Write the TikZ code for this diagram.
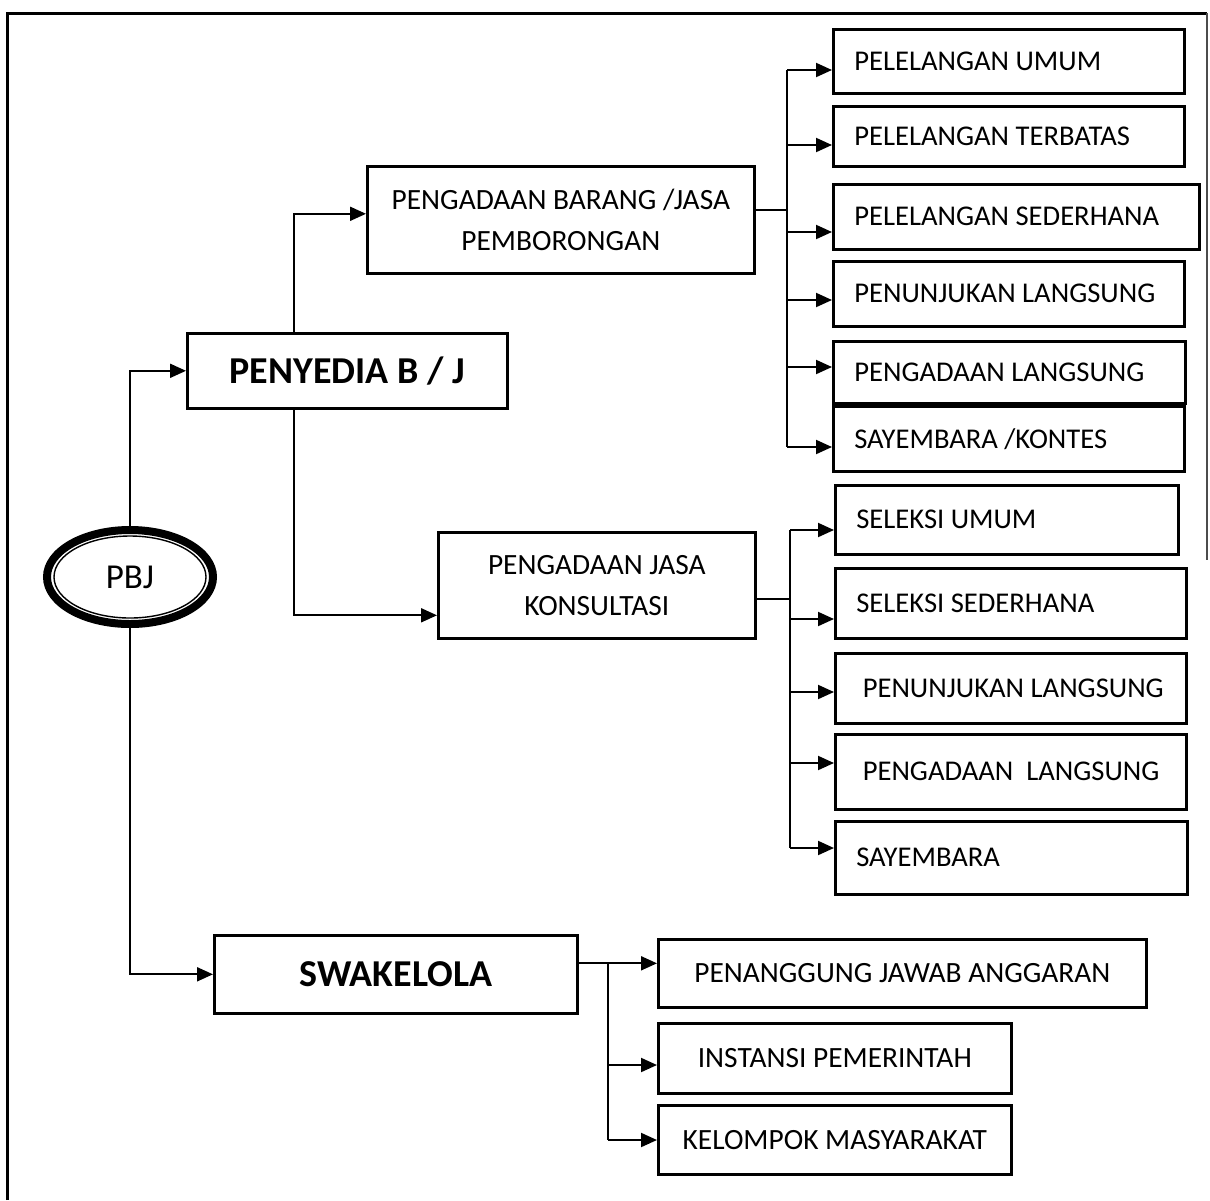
\documentclass[tikz,border=0pt]{standalone}
\usepackage{fontspec}
\setmainfont{Carlito}
\usetikzlibrary{arrows.meta,shapes.geometric}

\begin{document}
\begin{tikzpicture}[x=0.5pt,y=-0.5pt,
	box/.style={draw,line width=1.3pt,anchor=north west,inner sep=0pt,font=\fontsize{14.7}{20.5}\selectfont},
	leaf/.style 2 args={box,align=flush left,inner xsep=10.5pt,text width=#1,minimum height=#2,font=\fontsize{14.3}{20}\selectfont},
	cbox/.style 2 args={box,align=center,minimum width=#1,minimum height=#2},
	head/.style 2 args={cbox={#1}{#2},font=\fontsize{19}{23}\selectfont\bfseries},
	pbjnode/.style={ellipse,draw,line width=4pt,minimum width=83pt,minimum height=47pt,inner sep=0pt,font=\fontsize{17.5}{20}\selectfont},
	conn/.style={line width=1pt},
	arr/.style={conn,-{Triangle[length=8pt,width=7pt]}}]

\useasboundingbox (0,0) rectangle (1210,1200);

% FRAME

\draw[line width=1.5pt] (7,1200) -- (7,13) -- (1207,13);
\draw[line width=0.8pt,black!70] (1207,13) -- (1207,560);

% ROOT

\node[pbjnode] (pbj) at (130,577) {PBJ};
\draw[line width=0.7pt] (pbj.center) ellipse [x radius=38pt, y radius=20.5pt];

\node[head={160pt}{37.5pt}] (penyedia) at (186,332) {PENYEDIA B / J};
\node[head={181.5pt}{39pt}] (swakelola) at (213,934) {SWAKELOLA};

\draw[arr] (pbj.north) |- (penyedia.west);
\draw[arr] (pbj.south) |- (swakelola.west);

% PENYEDIA BRANCH

\node[cbox={193.5pt}{53.5pt}] (barang) at (366,165) {PENGADAAN BARANG /JASA\\PEMBORONGAN};
\node[cbox={158.5pt}{53pt}] (jasa) at (437,531) {PENGADAAN JASA\\KONSULTASI};

\draw[arr] ([xshift=-26.5pt]penyedia.north) |- ([yshift=3pt]barang.west);
\draw[arr] ([xshift=-26.5pt]penyedia.south) |- ([yshift=-15pt]jasa.west);

% BARANG / PEMBORONGAN LEAVES

\node[leaf={154.5pt}{32pt}] (pu) at (832,28) {PELELANGAN UMUM};
\node[leaf={154.5pt}{30pt}] (pt) at (832,105) {PELELANGAN TERBATAS};
\node[leaf={162pt}{32.5pt}] (ps) at (832,183) {PELELANGAN SEDERHANA};
\node[leaf={154.5pt}{32.5pt}] (pl1) at (832,260) {PENUNJUKAN LANGSUNG};
\node[leaf={155pt}{31pt}] (pgl1) at (832,340) {PENGADAAN LANGSUNG};
\node[leaf={154.5pt}{32.5pt}] (skon) at (832,405) {SAYEMBARA /KONTES};

\coordinate (busa) at (787,70);
\draw[conn] (busa) -- (787,447);
\draw[conn] ([yshift=5pt]barang.east) -- ([yshift=5pt]barang.east -| busa);
\foreach \n/\y in {pu/70,pt/145,ps/232,pl1/300,pgl1/367,skon/447}
	\draw[arr] (787,\y) coordinate (t) -- (t -| \n.west);

% KONSULTASI LEAVES

\node[leaf={150.5pt}{34.5pt}] (su) at (834,484) {SELEKSI UMUM};
\node[leaf={154.5pt}{35pt}] (ss) at (834,567) {SELEKSI SEDERHANA};
\node[leaf={154.5pt}{35pt}] (pl2) at (834,652) {\ PENUNJUKAN LANGSUNG};
\node[leaf={154.5pt}{37.5pt}] (pgl2) at (834,733) {\ PENGADAAN\ \ LANGSUNG};
\node[leaf={155pt}{36.5pt}] (say) at (834,820) {SAYEMBARA};

\coordinate (busb) at (790,530);
\draw[conn] (busb) -- (790,848);
\draw[conn] ([yshift=-7pt]jasa.east) -- ([yshift=-7pt]jasa.east -| busb);
\foreach \n/\y in {su/530,ss/619,pl2/692,pgl2/763,say/848}
	\draw[arr] (790,\y) coordinate (t) -- (t -| \n.west);

% SWAKELOLA LEAVES

\node[cbox={244pt}{34pt}] (pja) at (657,938) {PENANGGUNG JAWAB ANGGARAN};
\node[cbox={176.5pt}{35pt}] (ip) at (657,1022) {INSTANSI PEMERINTAH};
\node[cbox={176.5pt}{34.5pt}] (km) at (657,1104) {KELOMPOK MASYARAKAT};

\coordinate (busc) at (608,962);
\draw[arr] ([yshift=5.5pt]swakelola.east) -- ([yshift=5.5pt]swakelola.east -| pja.west);
\draw[conn] (busc) -- (608,1140);
\foreach \n/\y in {ip/1065,km/1140}
	\draw[arr] (608,\y) coordinate (t) -- (t -| \n.west);

\end{tikzpicture}
\end{document}
